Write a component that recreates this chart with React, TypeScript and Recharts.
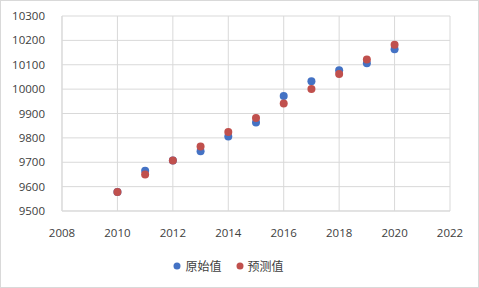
import React from "react";
import {
  ScatterChart,
  Scatter,
  XAxis,
  YAxis,
  CartesianGrid,
  Legend,
} from "recharts";

const years = [2010, 2011, 2012, 2013, 2014, 2015, 2016, 2017, 2018, 2019, 2020];
const originalValues = [9578, 9665, 9707, 9745, 9806, 9863, 9972, 10032, 10077, 10106, 10164];
const predictedValues = [9578, 9650, 9707, 9765, 9824, 9882, 9941, 10001, 10062, 10122, 10182];

const xTicks = [2008, 2010, 2012, 2014, 2016, 2018, 2020, 2022];
const yTicks = [9500, 9600, 9700, 9800, 9900, 10000, 10100, 10200, 10300];

const BLUE = "#4472C4";
const RED = "#C0504D";
const GRID = "#D9D9D9";
const TEXT = "#404040";

const originalData = years.map((year, i) => ({ year, value: originalValues[i] }));
const predictedData = years.map((year, i) => ({ year, value: predictedValues[i] }));

const Dot = (color: string) => (props: any) => (
  <circle cx={props.cx} cy={props.cy} r={4} fill={color} />
);

const LegendContent = () => (
  <div
    style={{
      display: "flex",
      justifyContent: "center",
      alignItems: "center",
      gap: 14,
      fontFamily: "'Noto Sans CJK SC', sans-serif",
      fontSize: 12,
      color: TEXT,
      marginLeft: 6,
    }}
  >
    {[
      { name: "原始值", color: BLUE },
      { name: "预测值", color: RED },
    ].map((item) => (
      <span key={item.name} style={{ display: "flex", alignItems: "center", gap: 4 }}>
        <svg width={8} height={8}>
          <circle cx={4} cy={4} r={3.5} fill={item.color} />
        </svg>
        {item.name}
      </span>
    ))}
  </div>
);

export default function App() {
  const tick = { fontSize: 11.5, fill: TEXT, fontFamily: "'Open Sans', sans-serif" };
  return (
    <div
      style={{
        position: "fixed",
        left: 0,
        top: 0,
        width: 477,
        height: 286,
        border: `1px solid ${GRID}`,
        background: "#fff",
      }}
    >
      <ScatterChart
        width={477}
        height={286}
        margin={{ top: 15, right: 28, bottom: 0, left: 0 }}
      >
        <CartesianGrid stroke={GRID} />
        <XAxis
          type="number"
          dataKey="year"
          domain={[2008, 2022]}
          ticks={xTicks}
          tick={tick}
          tickLine={false}
          axisLine={{ stroke: GRID }}
          tickMargin={12}
          height={46}
          interval={0}
        />
        <YAxis
          type="number"
          dataKey="value"
          domain={[9500, 10300]}
          ticks={yTicks}
          tick={tick}
          tickLine={false}
          axisLine={{ stroke: GRID }}
          tickMargin={11}
          width={61}
          interval={0}
        />
        <Legend verticalAlign="bottom" height={30} content={<LegendContent />} />
        <Scatter
          name="原始值"
          data={originalData}
          fill={BLUE}
          shape={Dot(BLUE)}
          isAnimationActive={false}
        />
        <Scatter
          name="预测值"
          data={predictedData}
          fill={RED}
          shape={Dot(RED)}
          isAnimationActive={false}
        />
      </ScatterChart>
    </div>
  );
}
